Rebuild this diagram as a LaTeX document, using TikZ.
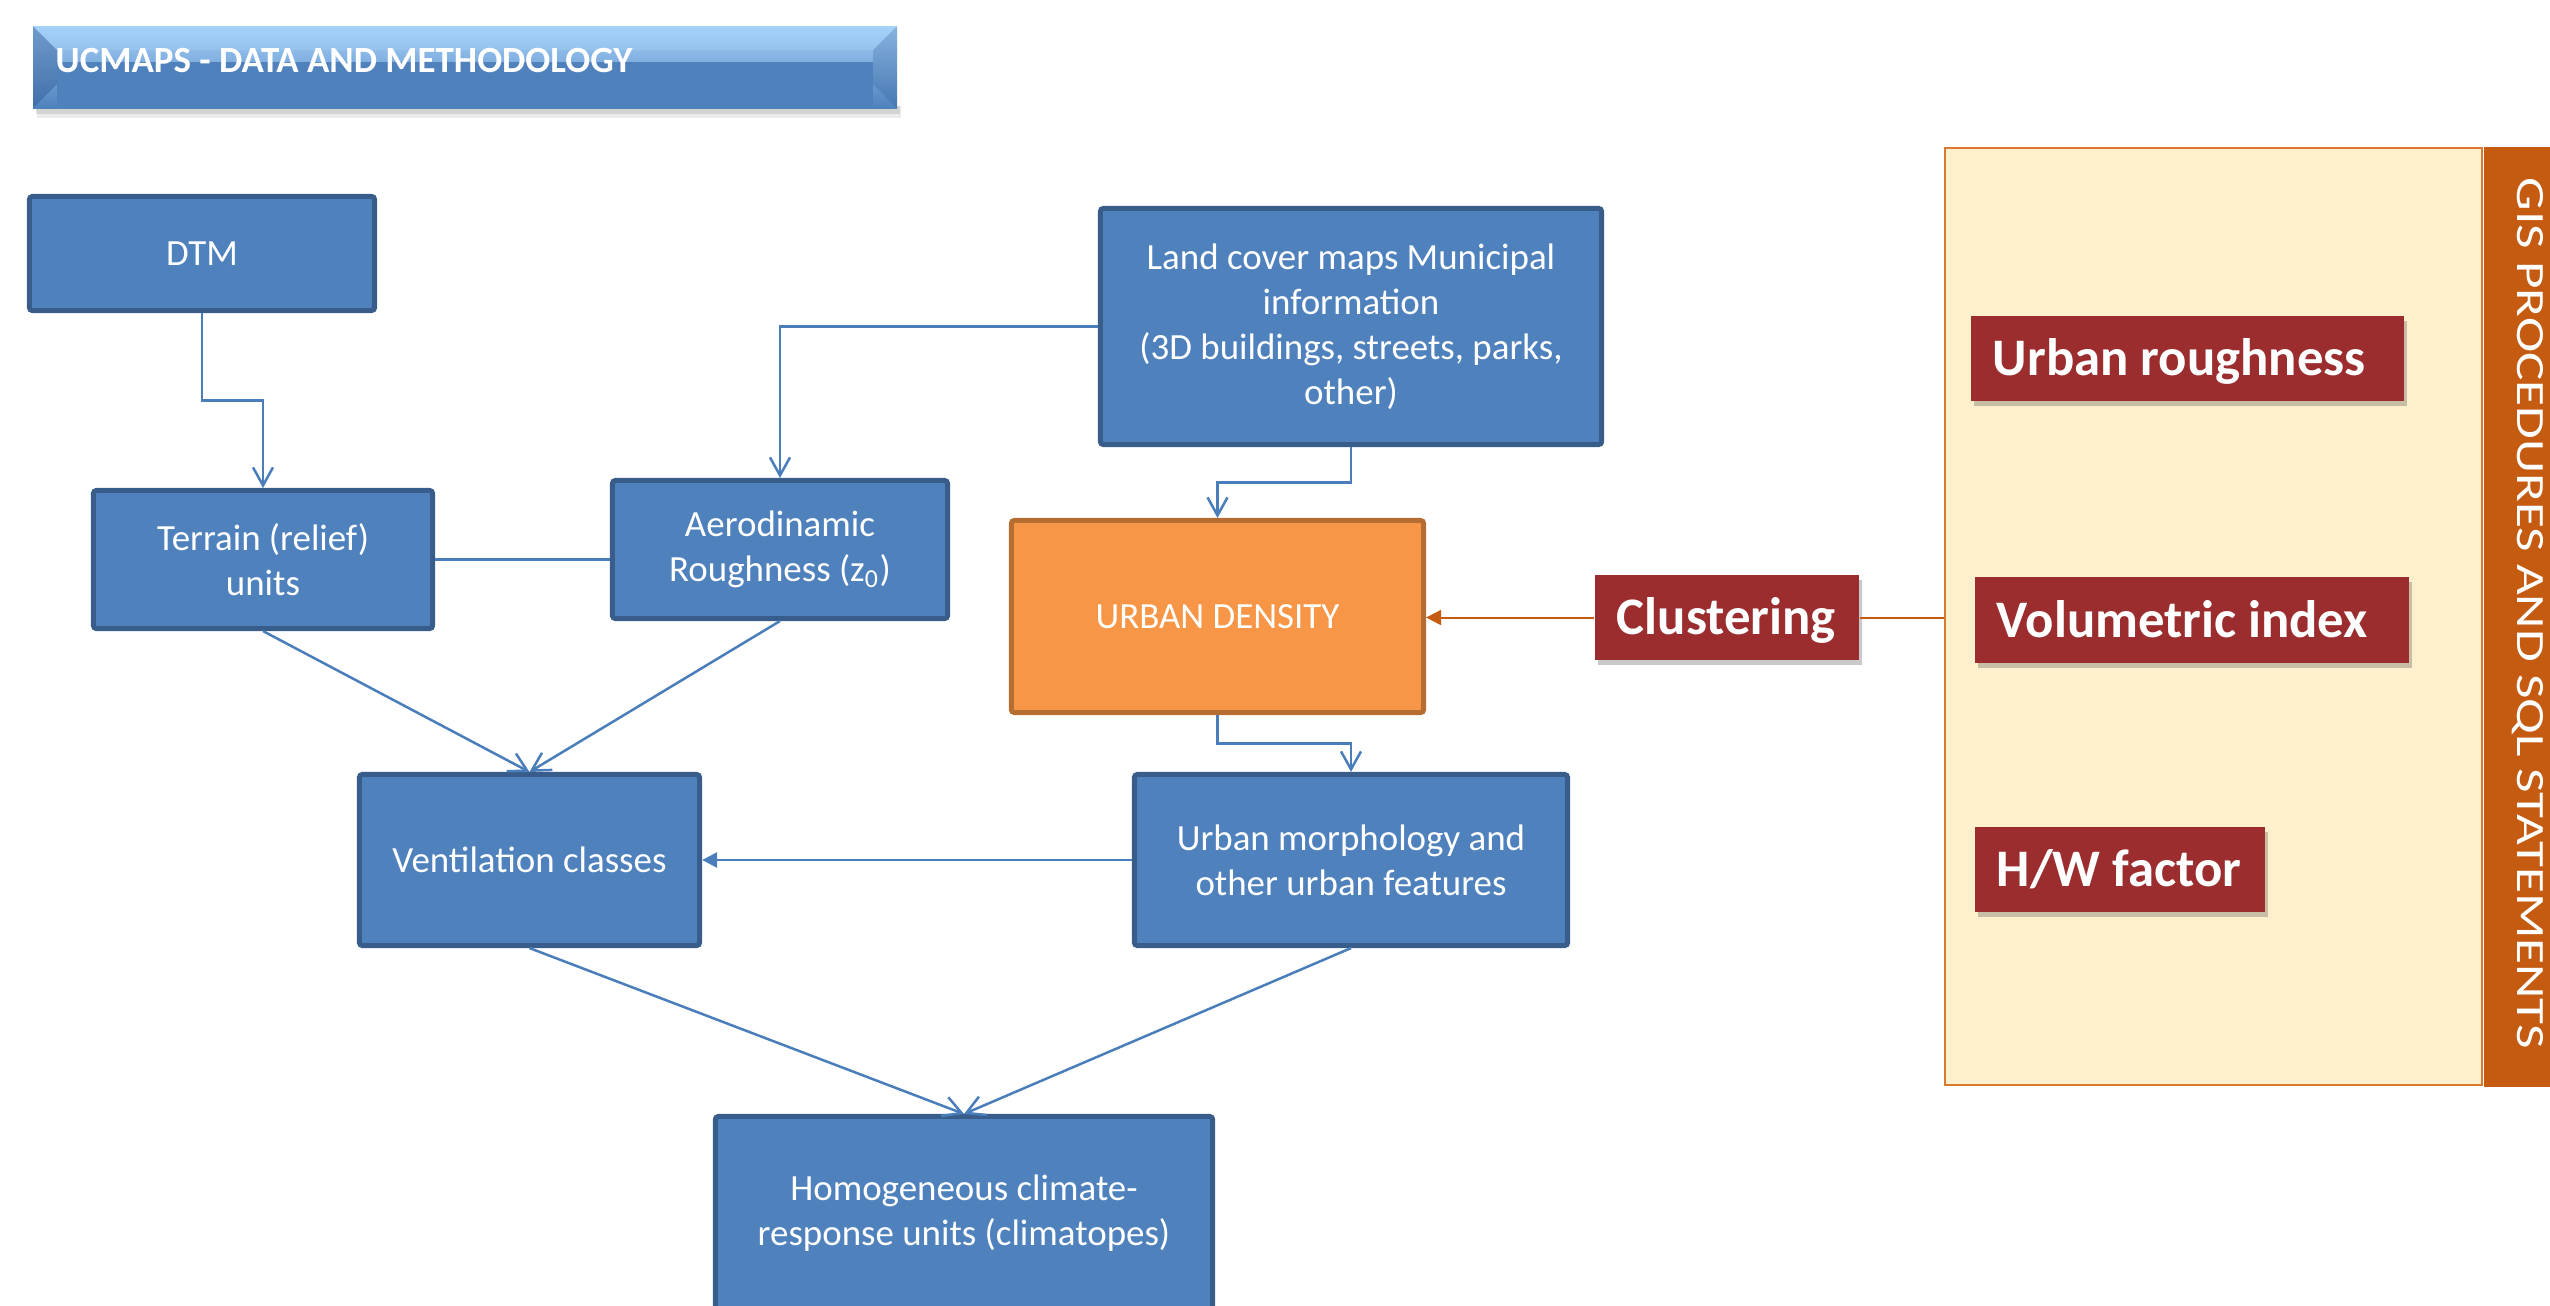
\documentclass[tikz,border=0pt]{standalone}
\usepackage{fontspec}
\usepackage{graphicx}
\setmainfont{Carlito}
\usetikzlibrary{arrows.meta,calc,shadows}
\definecolor{bfill}{HTML}{4F81BD}
\definecolor{bdark}{HTML}{385D8A}
\definecolor{cline}{HTML}{4A7EBB}
\definecolor{ofill}{HTML}{F79646}
\definecolor{odark}{HTML}{B66D31}
\definecolor{rfill}{HTML}{9B2D2F}
\definecolor{cream}{HTML}{FEF0CD}
\definecolor{bandc}{HTML}{C55A11}
\definecolor{pborder}{HTML}{D9782F}
\definecolor{tlight}{HTML}{A6D2FA}
\definecolor{tmid}{HTML}{5E93D2}
\definecolor{tdark}{HTML}{2E5A94}
\tikzset{
  bluebox/.style={draw=bdark, fill=bfill, line width=0.05cm, rounded corners=0.03cm,
    text=white, font=\fontsize{10.5}{12.8}\selectfont, align=center, inner sep=0pt},
  udbox/.style={bluebox, draw=odark, fill=ofill},
  onetext/.style={text height=0.24cm, text depth=0pt},
  redbox/.style={fill=rfill, text=white, font=\bfseries\fontsize{15}{18}\selectfont,
    inner xsep=0.22cm, inner ysep=0pt, text height=0.34cm, text depth=0pt,
    minimum height=0.85cm,
    drop shadow={shadow xshift=0.03cm, shadow yshift=-0.05cm, opacity=0.3, fill=black!70}},
  conn/.style={draw=cline, line width=0.025cm},
  openarr/.style={-{Straight Barb[length=0.18cm,width=0.2cm]}},
  fillarr/.style={-{Triangle[length=0.15cm,width=0.15cm]}},
  oconn/.style={draw=bandc, line width=0.02cm},
}
\begin{document}
\begin{tikzpicture}[x=0.01cm,y=-0.01cm]
\useasboundingbox (0,0) rectangle (2550,1305);

% title banner
\fill[black,opacity=0.08] (37,106) rectangle (901,118);
\fill[black,opacity=0.10] (36,106) rectangle (900,114);
\shade[top color=tlight, middle color=tmid, bottom color=bfill] (33,26) rectangle (897,108);
\fill[bfill] (57,62) rectangle (873,108);
\fill[tdark,opacity=0.45] (33,26) -- (57,50) -- (57,84) -- (33,108) -- cycle;
\fill[tdark,opacity=0.25] (897,26) -- (873,50) -- (873,84) -- (897,108) -- cycle;
\fill[tlight,opacity=0.35] (33,26) -- (897,26) -- (873,50) -- (57,50) -- cycle;
\node[anchor=base west, inner sep=0pt, text=white, font=\bfseries\fontsize{10.5}{12}\selectfont]
  (title) at (55,72) {UCMAPS - DATA AND METHODOLOGY};

% right panel
\node[draw=pborder, fill=cream, line width=0.02cm, minimum width=5.37cm, minimum height=9.37cm,
  inner sep=0pt] (panel) at (2213.5,616.5) {};
\node[fill=bandc, anchor=north west, minimum width=0.8cm, minimum height=9.40cm, inner sep=0pt]
  (band) at (2483,146) {};
\node[rotate=-90, anchor=base west, inner sep=0pt, text=white, font=\fontsize{11.4}{13}\selectfont]
  (gis) at (2517,177) {\scalebox{1.327}[1]{GIS PROCEDURES AND SQL STATEMENTS}};

\node[redbox] (rough) at (2187.5,358.5) {\makebox[3.89cm][l]{Urban roughness}};
\node[redbox] (vol) at (2192,620) {\makebox[3.90cm][l]{Volumetric index}};
\node[redbox] (hw) at (2120,869.5) {\makebox[2.46cm][l]{H/W factor}};
\node[redbox] (clust) at (1727,617.5) {\makebox[2.20cm][l]{Clustering}};

% flow boxes
\node[bluebox, onetext, minimum width=3.45cm, minimum height=1.14cm] (dtm) at (202,253.5) {DTM};
\node[bluebox, minimum width=3.39cm, minimum height=1.38cm] (terrain) at (263,559.5) {Terrain (relief)\\units};
\node[bluebox, minimum width=3.35cm, minimum height=1.38cm] (aero) at (780,549.5) {Aerodinamic\\Roughness (z\textsubscript{0})};
\node[bluebox, minimum width=5.01cm, minimum height=2.36cm] (land) at (1351,326.5)
  {Land cover maps Municipal\\information\\(3D buildings, streets, parks,\\other)};
\node[udbox, onetext, minimum width=4.12cm, minimum height=1.92cm] (ud) at (1217.5,616.5) {URBAN DENSITY};
\node[bluebox, onetext, minimum width=3.40cm, minimum height=1.71cm] (vent) at (529.5,860) {Ventilation classes};
\node[bluebox, minimum width=4.33cm, minimum height=1.71cm] (morph) at (1351,860) {Urban morphology and\\other urban features};
\node[bluebox, minimum width=4.97cm, minimum height=1.94cm] (homog) at (964,1213.5) {Homogeneous climate-\\response units (climatopes)};

% connectors
\draw[conn,openarr] (dtm.south) |- ($(dtm.south)!.5!(terrain.north)$) -| (terrain.north);
\draw[conn,openarr] (land.west) -| (aero.north);
\draw[conn,openarr] (land.south) |- ($(land.south)!.5!(ud.north)$) -| (ud.north);
\draw[conn] (terrain.east) -- (terrain.east -| aero.west);
\draw[conn,openarr] (terrain.south) -- (vent.north);
\draw[conn,openarr] (aero.south) -- (vent.north);
\draw[conn,openarr] (ud.south) |- ($(ud.south)!.5!(morph.north)$) -| (morph.north);
\draw[conn,fillarr] (morph.west) -- (vent.east);
\draw[conn,openarr] (vent.south) -- (homog.north);
\draw[conn,openarr] (morph.south) -- (homog.north);
\draw[oconn,fillarr] (clust.west) -- (clust.west -| ud.east);
\draw[oconn] (clust.east) -- (clust.east -| panel.west);
\end{tikzpicture}
\end{document}
